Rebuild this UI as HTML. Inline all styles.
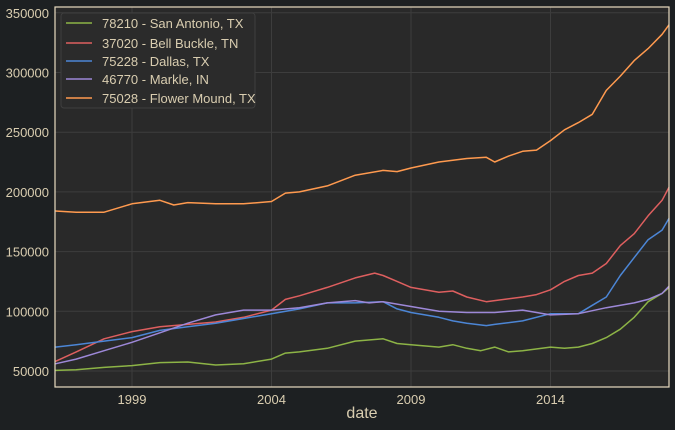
<!DOCTYPE html>
<html><head><meta charset="utf-8">
<style>
html,body{margin:0;padding:0;background:#1d2022;}
svg{display:block;font-family:"Liberation Sans",sans-serif;}
</style></head>
<body>
<svg id="chart" width="675" height="430">
<rect x="0" y="0" width="675" height="430" fill="#1d2022"/>
<rect x="55" y="7" width="614" height="380" fill="#292929"/>
<g id="grid"></g>
<g id="series"></g>
<rect x="55" y="7" width="614" height="380" fill="none" stroke="#e8dcc0" stroke-width="1.2"/>
<g id="axes"></g>
<text x="362" y="418" text-anchor="middle" font-size="16" fill="#d9cdb0">date</text>
<g id="legend"></g>
</svg>
<script>
const xTicks=[1999,2004,2009,2014];
const yTicks=[50000,100000,150000,200000,250000,300000,350000];
const names=["78210 - San Antonio, TX","37020 - Bell Buckle, TN","75228 - Dallas, TX","46770 - Markle, IN","75028 - Flower Mound, TX"];
const colors=["#8db446","#de5f5f","#4c86d6","#9d88d8","#ff9a4f"];
const saYears=[1996.25,1997,1998,1999,2000,2001,2002,2003,2004,2004.5,2005,2006,2007,2008,2008.5,2009,2010,2010.5,2011,2011.5,2012,2012.5,2013,2014,2014.5,2015,2015.5,2016,2016.5,2017,2017.5,2018,2018.25];
const saVals=[50500,51000,53000,54500,57000,57500,55000,56000,60000,65000,66000,69000,75000,77000,73000,72000,70000,72000,69000,67000,70000,66000,67000,70000,69000,70000,73000,78000,85000,95000,108000,115000,120000];
const bbYears=[1996.25,1997,1998,1999,2000,2001,2002,2003,2004,2004.5,2005,2006,2007,2007.7,2008,2008.5,2009,2010,2010.5,2011,2011.7,2012,2013,2013.5,2014,2014.5,2015,2015.5,2016,2016.5,2017,2017.5,2018,2018.25];
const bbVals=[58000,66000,77000,83000,87000,89000,91000,95000,101000,110000,113000,120000,128000,132000,130000,125000,120000,116000,117000,112000,108000,109000,112000,114000,118000,125000,130000,132000,140000,155000,165000,180000,193000,204000];
const dlYears=[1996.25,1997,1998,1999,2000,2001,2002,2003,2004,2005,2006,2007,2008,2008.5,2009,2010,2010.5,2011,2011.7,2012,2013,2014,2015,2015.5,2016,2016.5,2017,2017.5,2018,2018.25];
const dlVals=[70000,72000,75000,78000,84000,87000,90000,94000,98000,102000,107000,107000,108000,102000,99000,95000,92000,90000,88000,89000,92000,98000,98000,105000,112000,130000,145000,160000,168000,178000];
const mkYears=[1996.25,1997,1998,1999,2000,2001,2002,2003,2004,2005,2006,2007,2007.5,2008,2009,2010,2011,2012,2013,2014,2015,2016,2017,2017.5,2018,2018.25];
const mkVals=[56000,60000,67000,74000,82000,90000,97000,101000,101000,103000,107000,109000,107000,108000,104000,100000,99000,99000,101000,97000,98000,103000,107000,110000,115000,121000];
const fmYears=[1996.25,1997,1998,1999,2000,2000.5,2001,2002,2003,2004,2004.5,2005,2006,2007,2008,2008.5,2009,2010,2011,2011.7,2012,2012.5,2013,2013.5,2014,2014.5,2015,2015.5,2016,2016.5,2017,2017.5,2018,2018.25];
const fmVals=[184000,183000,183000,190000,193000,189000,191000,190000,190000,192000,199000,200000,205000,214000,218000,217000,220000,225000,228000,229000,225000,230000,234000,235000,243000,252000,258000,265000,285000,297000,310000,320000,332000,340000];
const seriesYears=[saYears,bbYears,dlYears,mkYears,fmYears];
const seriesVals=[saVals,bbVals,dlVals,mkVals,fmVals];

const NS="http://www.w3.org/2000/svg";
const X=yr=>132+(yr-1999)*27.9;
const Y=v=>371-(v-50000)/50000*59.7;
function mk(tag,attrs,parent){const e=document.createElementNS(NS,tag);for(const k in attrs)e.setAttribute(k,attrs[k]);parent.appendChild(e);return e;}
const grid=document.getElementById('grid'),axes=document.getElementById('axes'),ser=document.getElementById('series'),leg=document.getElementById('legend');
xTicks.forEach(t=>{
  const l=mk('line',{x1:X(t),x2:X(t),y1:7,y2:387,stroke:'#3d3d3d','stroke-width':1},grid);
  
  
  const tx=mk('text',{x:X(t),y:404,'text-anchor':'middle','font-size':13,fill:'#d9cdb0'},axes);
  tx.textContent=t;
  
  
});
yTicks.forEach(t=>{
  const l=mk('line',{x1:55,x2:669,y1:Y(t),y2:Y(t),stroke:'#3d3d3d','stroke-width':1},grid);
  
  
  const tx=mk('text',{x:49,y:Y(t)+5,'text-anchor':'end','font-size':13,fill:'#d9cdb0'},axes);
  tx.textContent=t;
  
  
});
seriesVals.forEach((vals,i)=>{
  const yrs=seriesYears[i];
  const d=vals.map((v,j)=>(j?'L':'M')+X(yrs[j]).toFixed(1)+','+Y(v).toFixed(1)).join(' ');
  const p=mk('path',{d:d,fill:'none',stroke:colors[i],'stroke-width':1.5,'stroke-linejoin':'round'},ser);
  
  
});
const box=mk('rect',{x:61,y:13,width:194,height:95,rx:3,fill:'#2b2b2b',stroke:'#3f3f3f','stroke-width':1},leg);


const ly=[23,43,61,79,98];
names.forEach((n,i)=>{
  const l=mk('line',{x1:66,x2:92,y1:ly[i],y2:ly[i],stroke:colors[i],'stroke-width':1.5},leg);
  
  
  const t=mk('text',{x:102,y:ly[i]+5,'font-size':13,fill:'#d9cdb0'},leg);
  t.textContent=n;
  
  
});
</script>
</body></html>
